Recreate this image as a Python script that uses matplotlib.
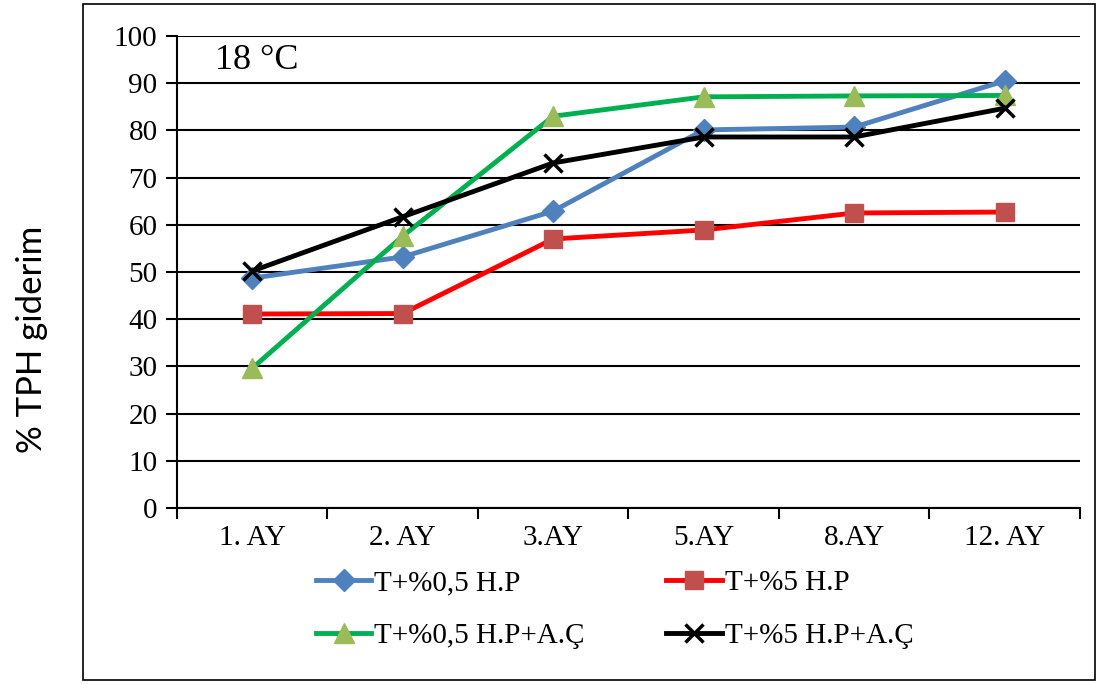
import matplotlib.pyplot as plt
from matplotlib.patches import Rectangle

# TPH removal (%) at 18 °C over months
months = ['1. AY', '2. AY', '3.AY', '5.AY', '8.AY', '12. AY']
hp_05 = [48.7, 53.2, 62.9, 80.1, 80.7, 90.5]
hp_5 = [41.1, 41.2, 57.0, 58.9, 62.5, 62.7]
hp_05_ac = [29.6, 57.6, 83.0, 87.1, 87.3, 87.4]
hp_5_ac = [50.2, 61.7, 73.1, 78.6, 78.6, 84.7]
labels = ['T+%0,5 H.P', 'T+%5 H.P', 'T+%0,5 H.P+A.Ç', 'T+%5 H.P+A.Ç']

serif = 'Liberation Serif'

fig = plt.figure(figsize=(11.08, 6.84), dpi=100)
ax = fig.add_axes([0.1597, 0.2573, 0.815, 0.6901])

x = list(range(len(months)))
l1, = ax.plot(x, hp_05, color='#4F81BD', lw=3.5, marker='D', ms=11,
              mfc='#4F81BD', mec='#4F81BD', zorder=3)
l2, = ax.plot(x, hp_5, color='#FF0000', lw=3.5, marker='s', ms=13,
              mfc='#C0504D', mec='#C0504D', zorder=3)
l3, = ax.plot(x, hp_05_ac, color='#00B050', lw=3.5, marker='^', ms=14,
              mfc='#9BBB59', mec='#9BBB59', zorder=3)
l4, = ax.plot(x, hp_5_ac, color='black', lw=3.5, marker='x', ms=13,
              mew=2.5, zorder=3)

ax.set_xlim(-0.5, len(months) - 0.5)
ax.set_ylim(0, 100)
ax.set_yticks(range(0, 101, 10))
ax.yaxis.grid(True, color='black', lw=1.5)
ax.set_axisbelow(True)

# category boundaries get the tick marks, labels sit in the middle
ax.set_xticks([i - 0.5 for i in range(len(months) + 1)], minor=False)
ax.set_xticklabels([])
ax.set_xticks(x, minor=True)
ax.set_xticklabels(months, minor=True, fontsize=21, family=serif)
ax.tick_params(axis='x', which='major', direction='out', length=8, width=1.5)
ax.tick_params(axis='x', which='minor', length=0, pad=12)
ax.tick_params(axis='y', direction='out', length=8, width=1.5, labelsize=21, pad=6)
for t in ax.get_yticklabels():
    t.set_family(serif)

for s in ['top', 'right']:
    ax.spines[s].set_visible(False)
for s in ['left', 'bottom']:
    ax.spines[s].set_linewidth(1.5)

fig.text(32 / 1108, 1 - 339 / 684, '% TPH giderim', rotation=90,
         fontsize=25, family='Lato', ha='center', va='center')
ax.text(0.042, 0.949, '18 °C', transform=ax.transAxes, fontsize=26,
        family=serif, va='center')

# legend fills row by row: blue, red / green, black
fig.legend([l1, l3, l2, l4], [labels[0], labels[2], labels[1], labels[3]],
           loc='upper left', bbox_to_anchor=(0.272, 0.188), ncol=2,
           frameon=False, prop={'family': serif, 'size': 21},
           handlelength=1.9, handletextpad=0.1, columnspacing=2.8,
           labelspacing=0.9, borderpad=0)

fig.patches.append(Rectangle((83 / 1108, 4 / 684), 1012 / 1108, 676 / 684,
                             transform=fig.transFigure, fill=False,
                             edgecolor='black', lw=1.2))

fig.savefig('out.png', dpi=100)
